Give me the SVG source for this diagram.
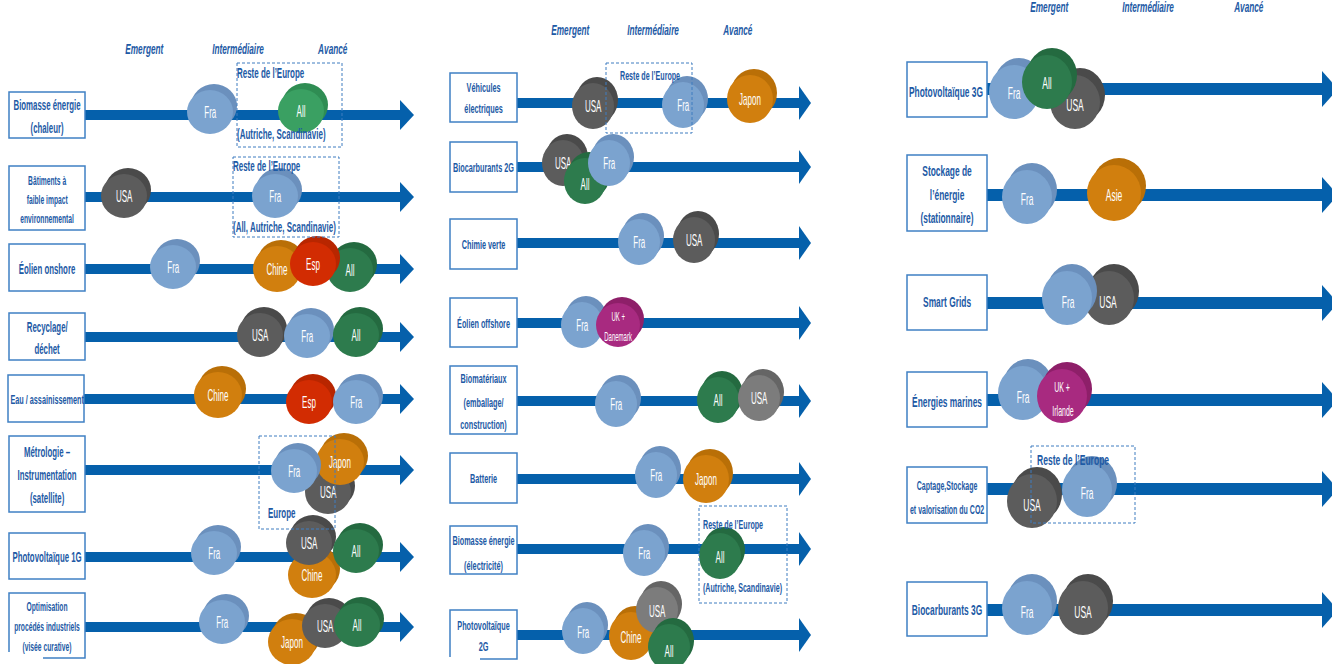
<svg xmlns="http://www.w3.org/2000/svg" width="1332" height="664" viewBox="0 0 1332 664">
<defs>
<style>
text{font-family:"Liberation Sans",Arial,sans-serif}
.hd{font-size:15px;font-weight:700;font-style:italic;fill:#1d5aa5;text-anchor:middle;transform-box:fill-box;transform-origin:center;transform:scaleX(.55)}
.lb{font-weight:700;fill:#1d5aa5;text-anchor:middle;transform-box:fill-box;transform-origin:center;transform:scaleX(.56)}
.nt{font-weight:700;fill:#1d5aa5;transform-box:fill-box;transform-origin:left center;transform:scaleX(.57)}
.dt{fill:#fff;text-anchor:middle;font-size:16px;transform-box:fill-box;transform-origin:center;transform:scaleX(.5)}
.dt2{fill:#fff;text-anchor:middle;transform-box:fill-box;transform-origin:center;transform:scaleX(.5)}
.c3 .dt{font-size:17px}
.box{fill:#fff;stroke:#3f80c4;stroke-width:1.5}
.frame{fill:none;stroke:#3f7cc0;stroke-width:1;stroke-dasharray:3 2}
.axis{stroke:#0560ab;fill:none}
.fra .bk{fill:#6b90bd}.fra .fr{fill:#7ba3cf}
.usa .bk{fill:#4a4a4a}.usa .fr{fill:#5c5c5c}
.usal .bk{fill:#656565}.usal .fr{fill:#7c7c7c}
.all .bk{fill:#246a40}.all .fr{fill:#2d7b4d}
.allb .bk{fill:#2f8d53}.allb .fr{fill:#3aa062}
.ora .bk{fill:#b96f07}.ora .fr{fill:#d17f0e}
.esp .bk{fill:#b82600}.esp .fr{fill:#d22c02}
.mag .bk{fill:#8e1f69}.mag .fr{fill:#a82a80}
</style>
<marker id="ah1" markerUnits="userSpaceOnUse" viewBox="0 0 14 30" markerWidth="14" markerHeight="30" refX="1" refY="15" orient="auto"><path d="M0,0 L14,15 L0,30 Z" fill="#0560ab"/></marker>
<marker id="ah2" markerUnits="userSpaceOnUse" viewBox="0 0 12 34" markerWidth="12" markerHeight="34" refX="1" refY="17" orient="auto"><path d="M0,0 L12,17 L0,34 Z" fill="#0560ab"/></marker>
<marker id="ah3" markerUnits="userSpaceOnUse" viewBox="0 0 16 36" markerWidth="16" markerHeight="36" refX="1" refY="18" orient="auto"><path d="M0,0 L16,18 L0,36 Z" fill="#0560ab"/></marker>
</defs>
<rect width="1332" height="664" fill="#fff"/>

<!-- maturity scale headings -->
<g id="headings">
<text class="hd" x="144" y="54">Emergent</text>
<text class="hd" x="238" y="54">Intermédiaire</text>
<text class="hd" x="333" y="54">Avancé</text>
<text class="hd" x="570" y="35">Emergent</text>
<text class="hd" x="653" y="35">Intermédiaire</text>
<text class="hd" x="738" y="35">Avancé</text>
<text class="hd" x="1049" y="12">Emergent</text>
<text class="hd" x="1148" y="12">Intermédiaire</text>
<text class="hd" x="1249" y="12">Avancé</text>
</g>

<!-- axes: one arrow per technology -->
<g id="connectors" class="axis">
<g stroke-width="10" marker-end="url(#ah1)">
<line x1="85" y1="115" x2="401" y2="115"/>
<line x1="85" y1="197" x2="401" y2="197"/>
<line x1="85" y1="269" x2="401" y2="269"/>
<line x1="85" y1="337" x2="401" y2="337"/>
<line x1="84" y1="399" x2="401" y2="399"/>
<line x1="85" y1="470" x2="401" y2="470"/>
<line x1="85" y1="557" x2="401" y2="557"/>
<line x1="85" y1="627" x2="401" y2="627"/>
</g>
<g stroke-width="10" marker-end="url(#ah2)">
<line x1="517" y1="103" x2="800" y2="103"/>
<line x1="517" y1="167" x2="800" y2="167"/>
<line x1="517" y1="243" x2="800" y2="243"/>
<line x1="517" y1="323" x2="800" y2="323"/>
<line x1="517" y1="401" x2="800" y2="401"/>
<line x1="517" y1="479" x2="800" y2="479"/>
<line x1="517" y1="549" x2="800" y2="549"/>
<line x1="517" y1="635" x2="800" y2="635"/>
</g>
<g stroke-width="12" marker-end="url(#ah3)">
<line x1="987" y1="89" x2="1323" y2="89"/>
<line x1="987" y1="195" x2="1323" y2="195"/>
<line x1="987" y1="303" x2="1323" y2="303"/>
<line x1="987" y1="400" x2="1323" y2="400"/>
<line x1="987" y1="489" x2="1323" y2="489"/>
<line x1="987" y1="610" x2="1323" y2="610"/>
</g>
</g>

<!-- column 1 technology labels -->
<g id="c1r1-label"><rect class="box" x="9" y="92" width="76" height="46"/><text class="lb" font-size="14" x="47" y="110">Biomasse énergie</text><text class="lb" font-size="14" x="47" y="133">(chaleur)</text></g>
<g id="c1r2-label"><rect class="box" x="9" y="166" width="76" height="64"/><text class="lb" font-size="12" x="47" y="185">Bâtiments à</text><text class="lb" font-size="12" x="47" y="204">faible impact</text><text class="lb" font-size="12" x="47" y="223">environnemental</text></g>
<g id="c1r3-label"><rect class="box" x="9" y="244" width="76" height="47"/><text class="lb" font-size="14" x="47" y="274">Éolien onshore</text></g>
<g id="c1r4-label"><rect class="box" x="9" y="313" width="76" height="47"/><text class="lb" font-size="14" x="47" y="332">Recyclage/</text><text class="lb" font-size="14" x="47" y="354">déchet</text></g>
<g id="c1r5-label"><rect class="box" x="8" y="375" width="76" height="47"/><text class="lb" font-size="13" x="47" y="404">Eau / assainissement</text></g>
<g id="c1r6-label"><rect class="box" x="9" y="436" width="76" height="76"/><text class="lb" font-size="14" x="47" y="457">Métrologie –</text><text class="lb" font-size="14" x="47" y="480">Instrumentation</text><text class="lb" font-size="14" x="47" y="503">(satellite)</text></g>
<g id="c1r7-label"><rect class="box" x="9" y="533" width="76" height="46"/><text class="lb" font-size="14" x="47" y="562">Photovoltaïque 1G</text></g>
<g id="c1r8-label"><path class="box" fill="none" d="M43,658 H85 V593 H9 V652"/><text class="lb" font-size="12" x="47" y="611">Optimisation</text><text class="lb" font-size="12" x="47" y="631">procédés industriels</text><text class="lb" font-size="12" x="47" y="651">(visée curative)</text></g>

<!-- column 2 technology labels -->
<g id="c2r1-label"><rect class="box" x="450" y="73" width="67" height="49"/><text class="lb" font-size="13" x="483.5" y="92">Véhicules</text><text class="lb" font-size="13" x="483.5" y="113">électriques</text></g>
<g id="c2r2-label"><rect class="box" x="450" y="142" width="67" height="50"/><text class="lb" font-size="13" x="483.5" y="172">Biocarburants 2G</text></g>
<g id="c2r3-label"><rect class="box" x="450" y="219" width="67" height="50"/><text class="lb" font-size="13" x="483.5" y="249">Chimie verte</text></g>
<g id="c2r4-label"><rect class="box" x="450" y="298" width="67" height="49"/><text class="lb" font-size="13" x="483.5" y="328">Éolien offshore</text></g>
<g id="c2r5-label"><rect class="box" x="450" y="366" width="67" height="68"/><text class="lb" font-size="13" x="483.5" y="383">Biomatériaux</text><text class="lb" font-size="13" x="483.5" y="407">(emballage/</text><text class="lb" font-size="13" x="483.5" y="429">construction)</text></g>
<g id="c2r6-label"><rect class="box" x="450" y="453" width="67" height="50"/><text class="lb" font-size="13" x="483.5" y="483">Batterie</text></g>
<g id="c2r7-label"><rect class="box" x="450" y="526" width="67" height="48"/><text class="lb" font-size="13" x="483.5" y="545">Biomasse énergie</text><text class="lb" font-size="13" x="483.5" y="570">(électricité)</text></g>
<g id="c2r8-label"><path class="box" fill="none" d="M480,659 H517 V610 H450 V657"/><text class="lb" font-size="13" x="483.5" y="630">Photovoltaïque</text><text class="lb" font-size="13" x="483.5" y="651">2G</text></g>

<!-- column 3 technology labels -->
<g id="c3r1-label"><rect class="box" x="907" y="62" width="80" height="55"/><text class="lb" font-size="15" x="946" y="97">Photovoltaïque 3G</text></g>
<g id="c3r2-label"><rect class="box" x="907" y="155" width="80" height="76"/><text class="lb" font-size="15" x="947" y="176">Stockage de</text><text class="lb" font-size="15" x="947" y="200">l’énergie</text><text class="lb" font-size="15" x="947" y="223">(stationnaire)</text></g>
<g id="c3r3-label"><rect class="box" x="907" y="275" width="80" height="55"/><text class="lb" font-size="15" x="947" y="307">Smart Grids</text></g>
<g id="c3r4-label"><rect class="box" x="907" y="372" width="80" height="55"/><text class="lb" font-size="15" x="947" y="407">Énergies marines</text></g>
<g id="c3r5-label"><rect class="box" x="907" y="467" width="80" height="56"/><text class="lb" font-size="12.5" x="947" y="490">Captage,Stockage</text><text class="lb" font-size="12.5" x="947" y="514">et valorisation du CO2</text></g>
<g id="c3r6-label"><rect class="box" x="907" y="582" width="80" height="54"/><text class="lb" font-size="15" x="947" y="615">Biocarburants 3G</text></g>

<!-- column 1 country discs -->
<g id="c1r1-fra" class="fra"><ellipse class="bk" cx="214" cy="106" rx="23" ry="22"/><ellipse class="fr" cx="210" cy="112" rx="23" ry="22"/><text class="dt" x="210" y="118">Fra</text></g>
<g id="c1r1-all" class="allb"><ellipse class="bk" cx="305" cy="105" rx="23" ry="22"/><ellipse class="fr" cx="301" cy="111" rx="23" ry="22"/><text class="dt" x="301" y="117">All</text></g>

<g id="c1r2-usa" class="usa"><ellipse class="bk" cx="128" cy="190" rx="23" ry="22"/><ellipse class="fr" cx="124" cy="196" rx="23" ry="22"/><text class="dt" x="124" y="202">USA</text></g>
<g id="c1r2-fra" class="fra"><ellipse class="bk" cx="279" cy="190" rx="23" ry="22"/><ellipse class="fr" cx="275" cy="196" rx="23" ry="22"/><text class="dt" x="275" y="202">Fra</text></g>

<g id="c1r3-fra" class="fra"><ellipse class="bk" cx="177" cy="261" rx="23" ry="22"/><ellipse class="fr" cx="173" cy="267" rx="23" ry="22"/><text class="dt" x="173" y="273">Fra</text></g>
<g id="c1r3-chine" class="ora"><ellipse class="bk" cx="281" cy="263" rx="24" ry="23"/><ellipse class="fr" cx="277" cy="269" rx="24" ry="23"/><text class="dt" x="277" y="275">Chine</text></g>
<g id="c1r3-all" class="all"><ellipse class="bk" cx="354" cy="264" rx="23" ry="22"/><ellipse class="fr" cx="350" cy="270" rx="23" ry="22"/><text class="dt" x="350" y="276">All</text></g>
<g id="c1r3-esp" class="esp"><ellipse class="bk" cx="317" cy="258" rx="23" ry="22"/><ellipse class="fr" cx="313" cy="264" rx="23" ry="22"/><text class="dt" x="313" y="270">Esp</text></g>

<g id="c1r4-usa" class="usa"><ellipse class="bk" cx="264" cy="329" rx="23" ry="22"/><ellipse class="fr" cx="260" cy="335" rx="23" ry="22"/><text class="dt" x="260" y="341">USA</text></g>
<g id="c1r4-fra" class="fra"><ellipse class="bk" cx="311" cy="330" rx="23" ry="22"/><ellipse class="fr" cx="307" cy="336" rx="23" ry="22"/><text class="dt" x="307" y="342">Fra</text></g>
<g id="c1r4-all" class="all"><ellipse class="bk" cx="360" cy="329" rx="23" ry="22"/><ellipse class="fr" cx="356" cy="335" rx="23" ry="22"/><text class="dt" x="356" y="341">All</text></g>

<g id="c1r5-chine" class="ora"><ellipse class="bk" cx="222" cy="389" rx="24" ry="23"/><ellipse class="fr" cx="218" cy="395" rx="24" ry="23"/><text class="dt" x="218" y="401">Chine</text></g>
<g id="c1r5-esp" class="esp"><ellipse class="bk" cx="313" cy="396" rx="23" ry="22"/><ellipse class="fr" cx="309" cy="402" rx="23" ry="22"/><text class="dt" x="309" y="408">Esp</text></g>
<g id="c1r5-fra" class="fra"><ellipse class="bk" cx="360" cy="396" rx="23" ry="22"/><ellipse class="fr" cx="356" cy="402" rx="23" ry="22"/><text class="dt" x="356" y="408">Fra</text></g>

<g id="c1r6-usa" class="usa"><ellipse class="bk" cx="332" cy="486" rx="23" ry="22"/><ellipse class="fr" cx="328" cy="492" rx="23" ry="22"/><text class="dt" x="328" y="498">USA</text></g>
<g id="c1r6-japon" class="ora"><ellipse class="bk" cx="344" cy="456" rx="24" ry="23"/><ellipse class="fr" cx="340" cy="462" rx="24" ry="23"/><text class="dt" x="340" y="468">Japon</text></g>
<g id="c1r6-fra" class="fra"><ellipse class="bk" cx="298" cy="465" rx="23" ry="22"/><ellipse class="fr" cx="294" cy="471" rx="23" ry="22"/><text class="dt" x="294" y="477">Fra</text></g>

<g id="c1r7-fra" class="fra"><ellipse class="bk" cx="218" cy="547" rx="23" ry="22"/><ellipse class="fr" cx="214" cy="553" rx="23" ry="22"/><text class="dt" x="214" y="559">Fra</text></g>
<g id="c1r7-chine" class="ora"><ellipse class="bk" cx="316" cy="569" rx="24" ry="23"/><ellipse class="fr" cx="312" cy="575" rx="24" ry="23"/><text class="dt" x="312" y="581">Chine</text></g>
<g id="c1r7-usa" class="usa"><ellipse class="bk" cx="313" cy="537" rx="23" ry="22"/><ellipse class="fr" cx="309" cy="543" rx="23" ry="22"/><text class="dt" x="309" y="549">USA</text></g>
<g id="c1r7-all" class="all"><ellipse class="bk" cx="360" cy="545" rx="23" ry="22"/><ellipse class="fr" cx="356" cy="551" rx="23" ry="22"/><text class="dt" x="356" y="557">All</text></g>

<g id="c1r8-fra" class="fra"><ellipse class="bk" cx="226" cy="616" rx="23" ry="22"/><ellipse class="fr" cx="222" cy="622" rx="23" ry="22"/><text class="dt" x="222" y="628">Fra</text></g>
<g id="c1r8-japon" class="ora"><ellipse class="bk" cx="296" cy="636" rx="24" ry="23"/><ellipse class="fr" cx="292" cy="642" rx="24" ry="23"/><text class="dt" x="292" y="648">Japon</text></g>
<g id="c1r8-usa" class="usa"><ellipse class="bk" cx="329" cy="620" rx="23" ry="22"/><ellipse class="fr" cx="325" cy="626" rx="23" ry="22"/><text class="dt" x="325" y="632">USA</text></g>
<g id="c1r8-all" class="all"><ellipse class="bk" cx="361" cy="619" rx="23" ry="22"/><ellipse class="fr" cx="357" cy="625" rx="23" ry="22"/><text class="dt" x="357" y="631">All</text></g>

<!-- column 2 country discs -->
<g id="c2r1-usa" class="usa"><ellipse class="bk" cx="597" cy="100" rx="21" ry="23"/><ellipse class="fr" cx="593" cy="106" rx="21" ry="23"/><text class="dt" x="593" y="112">USA</text></g>
<g id="c2r1-fra" class="fra"><ellipse class="bk" cx="687" cy="99" rx="21" ry="23"/><ellipse class="fr" cx="683" cy="105" rx="21" ry="23"/><text class="dt" x="683" y="111">Fra</text></g>
<g id="c2r1-japon" class="ora"><ellipse class="bk" cx="754" cy="93" rx="23" ry="24"/><ellipse class="fr" cx="750" cy="99" rx="23" ry="24"/><text class="dt" x="750" y="105">Japon</text></g>

<g id="c2r2-usa" class="usa"><ellipse class="bk" cx="567" cy="157" rx="21" ry="23"/><ellipse class="fr" cx="563" cy="163" rx="21" ry="23"/><text class="dt" x="563" y="169">USA</text></g>
<g id="c2r2-all" class="all"><ellipse class="bk" cx="589" cy="175" rx="21" ry="23"/><ellipse class="fr" cx="585" cy="181" rx="21" ry="23"/><text class="dt" x="585" y="190">All</text></g>
<g id="c2r2-fra" class="fra"><ellipse class="bk" cx="613" cy="157" rx="21" ry="23"/><ellipse class="fr" cx="609" cy="163" rx="21" ry="23"/><text class="dt" x="609" y="169">Fra</text></g>

<g id="c2r3-fra" class="fra"><ellipse class="bk" cx="643" cy="236" rx="21" ry="23"/><ellipse class="fr" cx="639" cy="242" rx="21" ry="23"/><text class="dt" x="639" y="248">Fra</text></g>
<g id="c2r3-usa" class="usa"><ellipse class="bk" cx="698" cy="234" rx="21" ry="23"/><ellipse class="fr" cx="694" cy="240" rx="21" ry="23"/><text class="dt" x="694" y="246">USA</text></g>

<g id="c2r4-fra" class="fra"><ellipse class="bk" cx="586" cy="319" rx="21" ry="23"/><ellipse class="fr" cx="582" cy="325" rx="21" ry="23"/><text class="dt" x="582" y="331">Fra</text></g>
<g id="c2r4-uk" class="mag"><ellipse class="bk" cx="622" cy="319" rx="22" ry="22"/><ellipse class="fr" cx="618" cy="325" rx="22" ry="22"/><text class="dt2" font-size="12" x="618" y="321">UK +</text><text class="dt2" font-size="12" x="618" y="341">Danemark</text></g>

<g id="c2r5-fra" class="fra"><ellipse class="bk" cx="620" cy="398" rx="21" ry="23"/><ellipse class="fr" cx="616" cy="404" rx="21" ry="23"/><text class="dt" x="616" y="410">Fra</text></g>
<g id="c2r5-all" class="all"><ellipse class="bk" cx="722" cy="394" rx="21" ry="23"/><ellipse class="fr" cx="718" cy="400" rx="21" ry="23"/><text class="dt" x="718" y="406">All</text></g>
<g id="c2r5-usa" class="usal"><ellipse class="bk" cx="763" cy="392" rx="21" ry="23"/><ellipse class="fr" cx="759" cy="398" rx="21" ry="23"/><text class="dt" x="759" y="404">USA</text></g>

<g id="c2r6-fra" class="fra"><ellipse class="bk" cx="660" cy="469" rx="21" ry="23"/><ellipse class="fr" cx="656" cy="475" rx="21" ry="23"/><text class="dt" x="656" y="481">Fra</text></g>
<g id="c2r6-japon" class="ora"><ellipse class="bk" cx="710" cy="473" rx="23" ry="24"/><ellipse class="fr" cx="706" cy="479" rx="23" ry="24"/><text class="dt" x="706" y="485">Japon</text></g>

<g id="c2r7-fra" class="fra"><ellipse class="bk" cx="648" cy="547" rx="21" ry="23"/><ellipse class="fr" cx="644" cy="553" rx="21" ry="23"/><text class="dt" x="644" y="559">Fra</text></g>
<g id="c2r7-all" class="all"><ellipse class="bk" cx="724" cy="550" rx="21" ry="23"/><ellipse class="fr" cx="720" cy="556" rx="21" ry="23"/><text class="dt" x="720" y="563">All</text></g>

<g id="c2r8-fra" class="fra"><ellipse class="bk" cx="587" cy="625" rx="21" ry="23"/><ellipse class="fr" cx="583" cy="631" rx="21" ry="23"/><text class="dt" x="583" y="638">Fra</text></g>
<g id="c2r8-chine" class="ora"><ellipse class="bk" cx="635" cy="630" rx="22" ry="24"/><ellipse class="fr" cx="631" cy="636" rx="22" ry="24"/><text class="dt" x="631" y="643">Chine</text></g>
<g id="c2r8-usa" class="usal"><ellipse class="bk" cx="661" cy="604" rx="21" ry="23"/><ellipse class="fr" cx="657" cy="610" rx="21" ry="23"/><text class="dt" x="657" y="617">USA</text></g>
<g id="c2r8-all" class="all"><ellipse class="bk" cx="673" cy="641" rx="21" ry="23"/><ellipse class="fr" cx="669" cy="647" rx="21" ry="23"/><text class="dt" x="669" y="657">All</text></g>

<!-- column 3 country discs -->
<g class="c3">
<g id="c3r1-fra" class="fra"><ellipse class="bk" cx="1019" cy="85" rx="25" ry="27"/><ellipse class="fr" cx="1014" cy="92" rx="25" ry="27"/><text class="dt" x="1014" y="99">Fra</text></g>
<g id="c3r1-usa" class="usa"><ellipse class="bk" cx="1080" cy="95" rx="25" ry="27"/><ellipse class="fr" cx="1075" cy="102" rx="25" ry="27"/><text class="dt" x="1075" y="111">USA</text></g>
<g id="c3r1-all" class="all"><ellipse class="bk" cx="1052" cy="75" rx="25" ry="27"/><ellipse class="fr" cx="1047" cy="82" rx="25" ry="27"/><text class="dt" x="1047" y="89">All</text></g>

<g id="c3r2-fra" class="fra"><ellipse class="bk" cx="1032" cy="190" rx="25" ry="27"/><ellipse class="fr" cx="1027" cy="197" rx="25" ry="27"/><text class="dt" x="1027" y="205">Fra</text></g>
<g id="c3r2-asie" class="ora"><ellipse class="bk" cx="1119" cy="186" rx="27" ry="28"/><ellipse class="fr" cx="1114" cy="193" rx="27" ry="28"/><text class="dt" x="1114" y="201">Asie</text></g>

<g id="c3r3-usa" class="usa"><ellipse class="bk" cx="1114" cy="291" rx="25" ry="27"/><ellipse class="fr" cx="1109" cy="298" rx="25" ry="27"/><text class="dt" x="1108" y="308">USA</text></g>
<g id="c3r3-fra" class="fra"><ellipse class="bk" cx="1072" cy="291" rx="25" ry="27"/><ellipse class="fr" cx="1067" cy="298" rx="25" ry="27"/><text class="dt" x="1068" y="308">Fra</text></g>

<g id="c3r4-fra" class="fra"><ellipse class="bk" cx="1028" cy="386" rx="25" ry="27"/><ellipse class="fr" cx="1023" cy="393" rx="25" ry="27"/><text class="dt" x="1023" y="403">Fra</text></g>
<g id="c3r4-uk" class="mag"><ellipse class="bk" cx="1067" cy="389" rx="25" ry="27"/><ellipse class="fr" cx="1062" cy="396" rx="25" ry="27"/><text class="dt2" font-size="14" x="1062" y="392">UK +</text><text class="dt2" font-size="14" x="1063" y="416">Irlande</text></g>

<g id="c3r5-usa" class="usa"><ellipse class="bk" cx="1037" cy="494" rx="25" ry="27"/><ellipse class="fr" cx="1032" cy="501" rx="25" ry="27"/><text class="dt" x="1032" y="511">USA</text></g>
<g id="c3r5-fra" class="fra"><ellipse class="bk" cx="1092" cy="483" rx="25" ry="27"/><ellipse class="fr" cx="1087" cy="490" rx="25" ry="27"/><text class="dt" x="1087" y="499">Fra</text></g>

<g id="c3r6-fra" class="fra"><ellipse class="bk" cx="1032" cy="601" rx="25" ry="27"/><ellipse class="fr" cx="1027" cy="608" rx="25" ry="27"/><text class="dt" x="1027" y="618">Fra</text></g>
<g id="c3r6-usa" class="usa"><ellipse class="bk" cx="1088" cy="601" rx="25" ry="27"/><ellipse class="fr" cx="1083" cy="608" rx="25" ry="27"/><text class="dt" x="1083" y="618">USA</text></g>
</g>

<!-- dashed regional groupings -->
<g id="c1r1-europe"><rect class="frame" x="237" y="63" width="105" height="84"/><text class="nt" font-size="14" x="237" y="78">Reste de l’Europe</text><text class="nt" font-size="14" x="237" y="139">(Autriche, Scandinavie)</text></g>
<g id="c1r2-europe"><rect class="frame" x="233" y="157" width="106" height="80"/><text class="nt" font-size="14" x="233" y="171">Reste de l’Europe</text><text class="nt" font-size="14" x="233" y="232">(All, Autriche, Scandinavie)</text></g>
<g id="c1r6-europe"><rect class="frame" x="259" y="436" width="76" height="93"/><text class="nt" font-size="14" x="268" y="518">Europe</text></g>
<g id="c2r1-europe"><rect class="frame" x="606" y="63" width="86" height="70"/><text class="nt" font-size="12.5" x="620" y="80">Reste de l’Europe</text></g>
<g id="c2r7-europe"><rect class="frame" x="699" y="506" width="88" height="97"/><text class="nt" font-size="12.5" x="703" y="529">Reste de l’Europe</text><text class="nt" font-size="12.5" x="703" y="592">(Autriche, Scandinavie)</text></g>
<g id="c3r5-europe"><rect class="frame" x="1031" y="446" width="104" height="77"/><text class="nt" font-size="15" x="1037" y="465">Reste de l’Europe</text></g>
</svg>
